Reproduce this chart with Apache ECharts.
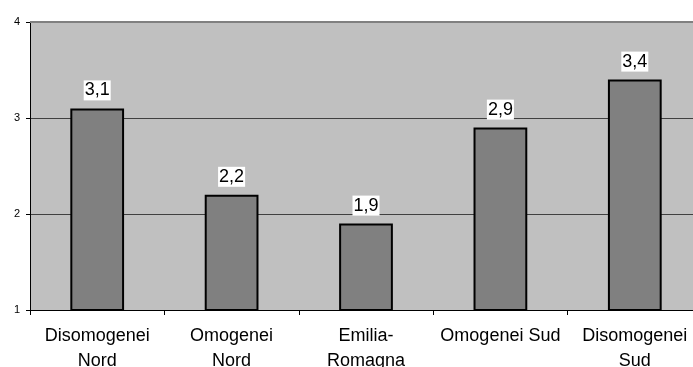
<!DOCTYPE html>
<html>
<head>
<meta charset="utf-8">
<script src="https://cdn.jsdelivr.net/npm/echarts@6/dist/echarts.min.js"></script>
<style>
  html, body { margin: 0; padding: 0; background: #ffffff; }
  #chart { width: 693px; height: 367px; }
</style>
</head>
<body>
<div id="chart"></div>
<script>
// Categories and values of the bar chart
const categories = ['Disomogenei\nNord', 'Omogenei\nNord', 'Emilia-\nRomagna', 'Omogenei Sud', 'Disomogenei\nSud'];
const values = [3.1, 2.2, 1.9, 2.9, 3.4];
const yTicks = [1, 2, 3, 4];

const chart = echarts.init(document.getElementById('chart'));

chart.setOption({
  animation: false,
  backgroundColor: '#ffffff',
  textStyle: { fontFamily: 'Liberation Sans, Arial, sans-serif' },
  grid: {
    left: 30, top: 22, width: 672, height: 288,
    containLabel: false,
    outerBoundsMode: 'none',
    show: true, backgroundColor: '#c0c0c0', borderWidth: 0
  },
  xAxis: {
    type: 'category',
    data: categories,
    axisLine: { show: true, lineStyle: { color: '#000000', width: 1 } },
    axisTick: { show: true, length: 5, lineStyle: { color: '#000000' } },
    axisLabel: {
      color: '#000000', fontSize: 18, lineHeight: 25, margin: 14,
      interval: 0
    },
    splitLine: { show: false }
  },
  yAxis: {
    type: 'value',
    min: yTicks[0],
    max: yTicks[yTicks.length - 1],
    interval: 1,
    axisLine: { show: true, lineStyle: { color: '#000000', width: 1 } },
    axisTick: { show: true, length: 4, lineStyle: { color: '#000000' } },
    axisLabel: { color: '#000000', fontSize: 11, margin: 10 },
    splitLine: { show: true, lineStyle: { color: '#404040', width: 1 } }
  },
  series: [
    {
      type: 'bar',
      data: values,
      barWidth: '40%',
      itemStyle: { color: '#808080', borderColor: '#000000', borderWidth: 2 },
      label: {
        show: true,
        position: 'top',
        distance: 8,
        color: '#000000',
        fontSize: 18,
        backgroundColor: '#ffffff',
        padding: [1, 1, 1, 1],
        formatter: p => String(p.value).replace('.', ',')
      },
      markLine: {
        silent: true,
        symbol: 'none',
        label: { show: false },
        lineStyle: { color: '#808080', width: 2, type: 'solid' },
        data: [{ yAxis: yTicks[yTicks.length - 1] }]
      }
    }
  ]
});
</script>
</body>
</html>
